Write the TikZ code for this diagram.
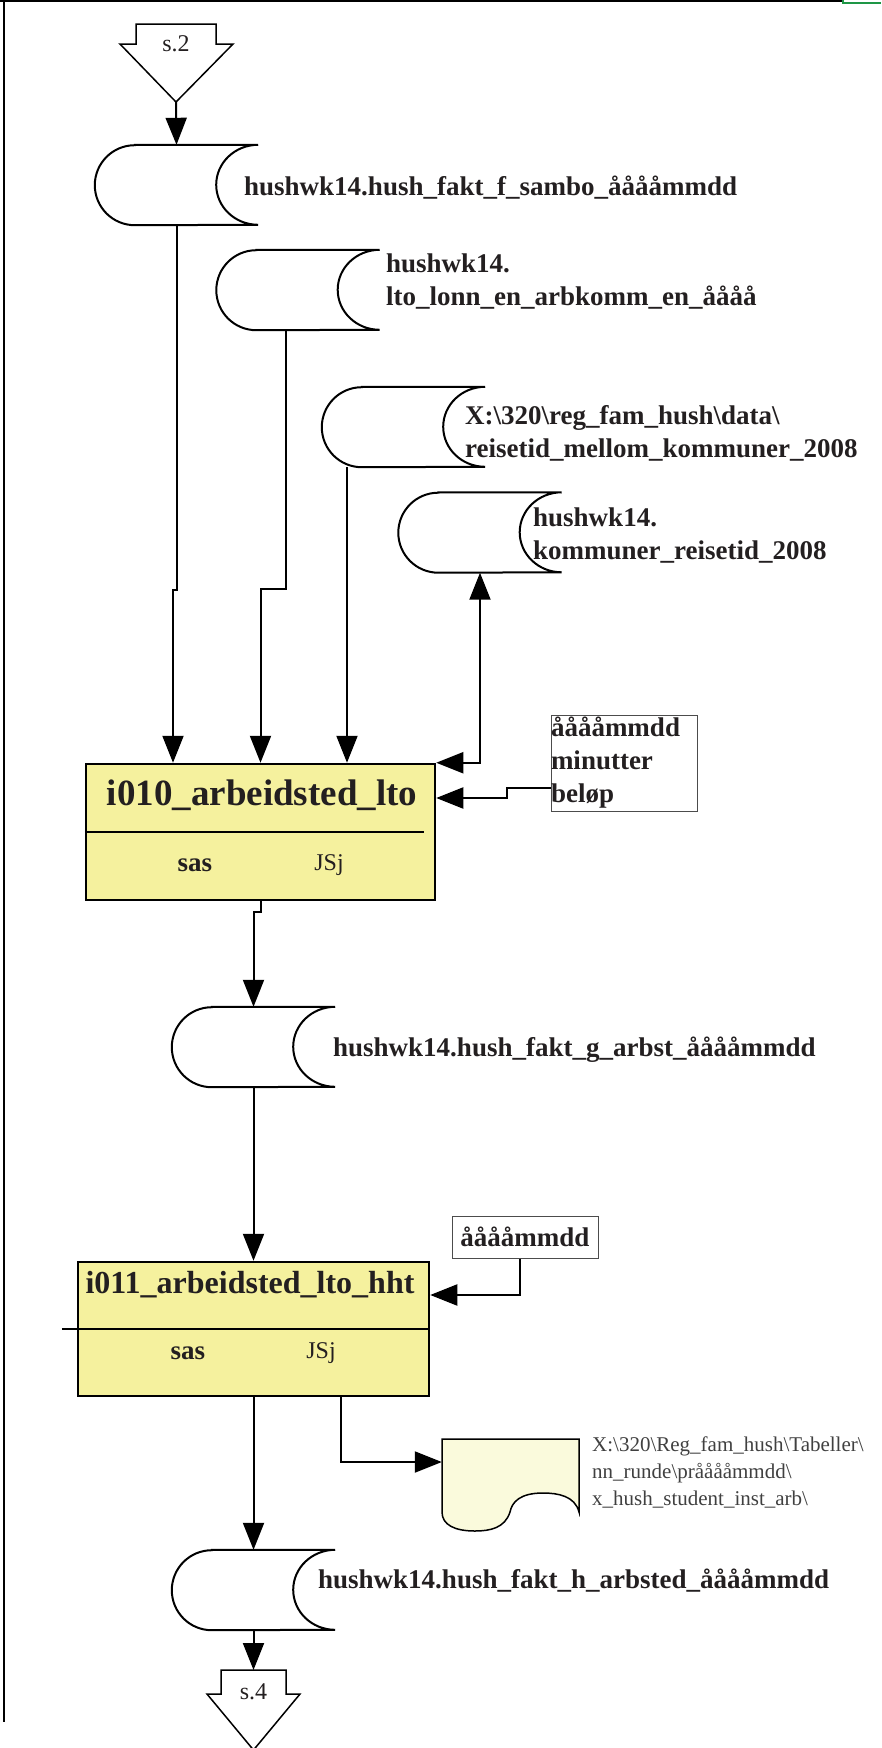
\documentclass[tikz,border=0pt]{standalone}
\usepackage{fontspec}
\setmainfont{Liberation Serif}
\usetikzlibrary{arrows.meta}
\definecolor{boxyellow}{RGB}{245,241,158}
\definecolor{docyellow}{RGB}{250,250,220}
\definecolor{inkgrey}{RGB}{35,31,32}
\definecolor{markgreen}{RGB}{30,150,70}
\newcommand{\drumshape}[1]{%
  \draw[drumline] ([xshift=40pt]#1.north west) -- (#1.north east)
    arc[start angle=90, end angle=270, x radius=42pt, y radius=40pt]
    -- ([xshift=40pt]#1.south west)
    arc[start angle=270, end angle=90, x radius=40pt, y radius=40pt] -- cycle;}
\begin{document}
\begin{tikzpicture}[x=1pt,y=1pt,
  drum/.style={minimum width=163pt, minimum height=80pt, inner sep=0pt},
  drumline/.style={draw=black, line width=2pt},
  dlabel/.style={anchor=west, inner sep=0pt, align=left, text=inkgrey, font=\fontsize{27}{33}\selectfont\bfseries},
  task/.style={draw=black, line width=2.5pt, fill=boxyellow, inner sep=0pt},
  tasktitle/.style={inner sep=0pt, text=inkgrey},
  tool/.style={inner sep=0pt, text=inkgrey, font=\fontsize{27}{33}\selectfont\bfseries},
  owner/.style={inner sep=0pt, text=inkgrey, font=\fontsize{24}{28}\selectfont},
  note/.style={draw=black!70, line width=1pt, inner sep=0pt, text=inkgrey, font=\fontsize{27}{33}\selectfont\bfseries},
  pglabel/.style={inner sep=0pt, text=inkgrey, font=\fontsize{24}{28}\selectfont},
  doclabel/.style={anchor=west, inner sep=0pt, align=left, text=black!75, font=\fontsize{21}{27}\selectfont},
  flow/.style={line width=2pt, -{Triangle[length=27pt,width=21pt]}},
  flowboth/.style={line width=2pt, {Triangle[length=27pt,width=21pt]}-{Triangle[length=27pt,width=21pt]}}]
\useasboundingbox (0,0) rectangle (881,-1748);
\draw[line width=2pt] (0,-1) -- (843,-1);
\draw[line width=2.5pt] (4,0) -- (4,-1722);
\draw[markgreen, line width=2pt] (843,0) -- (843,-3) -- (881,-3);
\draw[line width=1.5pt] (136,-24) -- (216,-24) -- (216,-44) -- (233,-44) -- (176,-102) -- (120,-44) -- (136,-44) -- cycle;
\node[pglabel] (s2) at (176,-44) {s.2};
\coordinate (s2tip) at (176,-102);
\node[drum] (d1) at (176.5,-185) {};
\drumshape{d1}
\node[dlabel] (l1) at (244,-188) {hushwk14.hush\_fakt\_f\_sambo\_ååååmmdd};
\node[drum] (d2) at (298,-290) {};
\drumshape{d2}
\node[dlabel] (l2) at (386,-282) {hushwk14.\\lto\_lonn\_en\_arbkomm\_en\_åååå};
\node[drum] (d3) at (403.5,-427) {};
\drumshape{d3}
\node[dlabel] (l3) at (465,-433) {X:\textbackslash 320\textbackslash reg\_fam\_hush\textbackslash data\textbackslash\\reisetid\_mellom\_kommuner\_2008};
\node[drum] (d4) at (480,-532.5) {};
\drumshape{d4}
\node[dlabel] (l4) at (533,-536) {hushwk14.\\kommuner\_reisetid\_2008};
\node[task, minimum width=349pt, minimum height=136pt] (b1) at (260.5,-832) {};
\draw[line width=2pt] (b1.west) -- ([xshift=-12pt]b1.east);
\node[tasktitle, font=\fontsize{37}{40}\selectfont\bfseries] (t1) at (262,-795) {i010\_arbeidsted\_lto};
\node[tool] (sas1) at (195,-865) {sas};
\node[owner] (own1) at (329,-865) {JSj};
\node[note, minimum width=146pt, minimum height=96pt, text width=146pt, align=left] (n1) at (624,-763) {ååååmmdd\\minutter\\beløp};
\node[drum] (d5) at (253.5,-1047) {};
\drumshape{d5}
\node[dlabel] (l5) at (333,-1050) {hushwk14.hush\_fakt\_g\_arbst\_ååååmmdd};
\node[task, minimum width=351pt, minimum height=134pt] (b2) at (253.5,-1329) {};
\draw[line width=2pt] ([xshift=-15pt]b2.west) -- (b2.east);
\node[tasktitle, font=\fontsize{32}{36}\selectfont\bfseries] (t2) at (250,-1285) {i011\_arbeidsted\_lto\_hht};
\node[tool] (sas2) at (188,-1353) {sas};
\node[owner] (own2) at (321,-1353) {JSj};
\node[note, minimum width=146pt, minimum height=42pt] (n2) at (525,-1237) {ååååmmdd};
\node[inner sep=0pt, minimum width=137pt, minimum height=91pt] (doc) at (510.5,-1484.5) {};
\draw[line width=1.5pt, fill=docyellow] (442,-1439) -- (579,-1439) -- (579,-1512)
  .. controls (575,-1496) and (558,-1493) .. (543,-1493)
  .. controls (520,-1493) and (512,-1502) .. (510,-1512)
  .. controls (505,-1528) and (490,-1531) .. (475,-1531)
  .. controls (455,-1531) and (442,-1525) .. (442,-1512) -- cycle;
\node[doclabel] (l7) at (592,-1472) {X:\textbackslash 320\textbackslash Reg\_fam\_hush\textbackslash Tabeller\textbackslash\\nn\_runde\textbackslash prååååmmdd\textbackslash\\x\_hush\_student\_inst\_arb\textbackslash};
\node[drum] (d6) at (253.5,-1590) {};
\drumshape{d6}
\node[dlabel] (l6) at (318,-1581) {hushwk14.hush\_fakt\_h\_arbsted\_ååååmmdd};
\draw[line width=1.5pt] (221,-1670) -- (286,-1670) -- (286,-1694) -- (300,-1694) -- (253.5,-1750) -- (207,-1694) -- (221,-1694) -- cycle;
\node[pglabel] (s4) at (253.5,-1692) {s.4};
\coordinate (s4top) at (253.5,-1670);
\draw[flow] (s2tip) -- (d1.north);
\draw[flow] (d1.south) -- ++(0,-365) -| ([xshift=-87.5pt]b1.north);
\draw[flow] ([xshift=-12pt]d2.south) -- ++(0,-259) -| (b1.north);
\draw[flow] ([xshift=-56.5pt]d3.south) -- ([xshift=86.5pt]b1.north);
\draw[flowboth] (b1.north east) -| (d4.south);
\draw[flow] ([yshift=-25pt]n1.west) -- ++(-44,0) |- ([yshift=34pt]b1.east);
\draw[flow] (b1.south) -- ++(0,-11) -| (d5.north);
\draw[flow] (d5.south) -- (b2.north);
\draw[flow] ([xshift=-5pt]n2.south) |- ([yshift=34pt]b2.east);
\draw[flow] ([xshift=87.5pt]b2.south) |- ([yshift=22.5pt]doc.west);
\draw[flow] (b2.south) -- (d6.north);
\draw[flow] (d6.south) -- (s4top);
\end{tikzpicture}
\end{document}
